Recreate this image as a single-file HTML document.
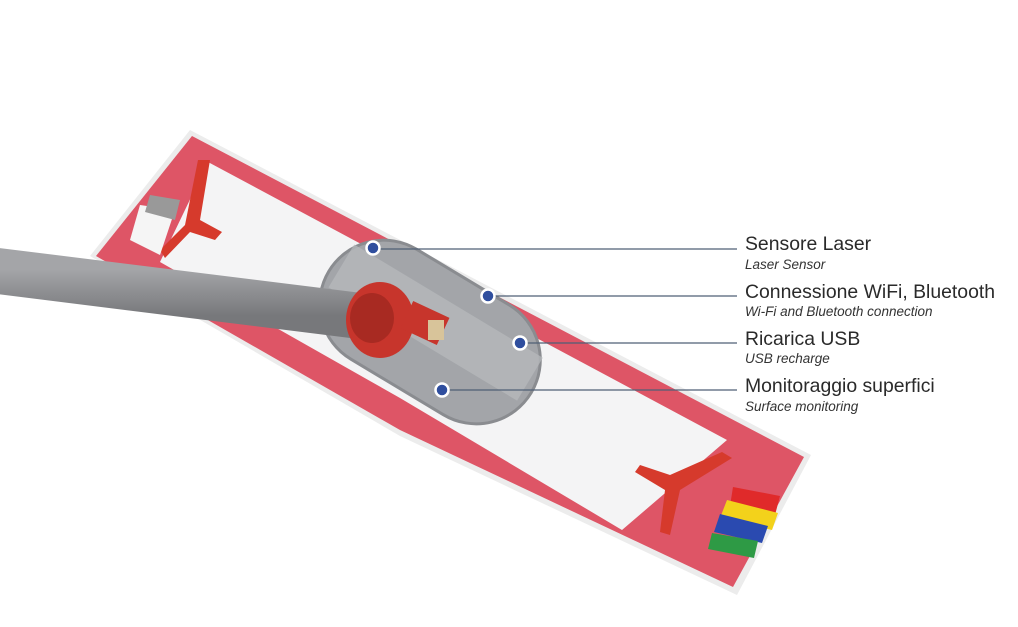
<!DOCTYPE html>
<html><head><meta charset="utf-8"><style>
html,body{margin:0;padding:0;background:#fff;width:1018px;height:627px;overflow:hidden;font-family:"Liberation Sans",sans-serif}
.t{position:absolute;left:745px;color:#2a2a2a;font-size:19.4px;white-space:nowrap}
.s{position:absolute;left:745px;color:#333;font-size:13.5px;font-style:italic;white-space:nowrap}
</style></head><body>
<svg width="1018" height="627" style="position:absolute;left:0;top:0">
<defs>
<linearGradient id="h" x1="0" y1="0" x2="0" y2="1"><stop offset="0" stop-color="#a4a5a8"/><stop offset="0.5" stop-color="#8d8e91"/><stop offset="1" stop-color="#77787b"/></linearGradient>
</defs>
<polygon points="190,130 811,455 737,595 400,436 90,256" fill="#ececec"/>
<polygon points="192,136 804,457 733,587 400,430 96,256" fill="#de5566"/>
<polygon points="208,162 727,440 622,530 400,398 160,262" fill="#f4f4f5"/>
<polygon points="198,160 210,160 200,220 222,232 215,240 190,232 165,258 160,250 185,225" fill="#d63a2c"/>
<polygon points="722,452 732,458 680,490 670,535 660,532 665,490 635,472 640,465 670,475" fill="#d63a2c"/>
<polygon points="140,205 175,210 160,255 130,240" fill="#f5f5f5"/>
<polygon points="150,195 180,200 175,220 145,212" fill="#999"/>
<g transform="translate(430,332) rotate(31)">
<rect x="-118" y="-64" width="236" height="128" rx="64" fill="#a3a5a9" stroke="#8a8c90" stroke-width="3"/>
<rect x="-110" y="-36" width="220" height="50" fill="#b8babd" opacity="0.7"/>
</g>
<line x1="-10" y1="270" x2="360" y2="316" stroke="url(#h)" stroke-width="46" stroke-linecap="round"/>
<ellipse cx="380" cy="320" rx="34" ry="38" fill="#c7352c"/>
<ellipse cx="372" cy="318" rx="22" ry="25" fill="#a82a22"/>
<rect x="405" y="308" width="40" height="30" fill="#c7352c" transform="rotate(25 425 323)"/>
<rect x="428" y="320" width="16" height="20" fill="#d8c49a"/>
<polygon points="733,487 780,496 775,515 730,506" fill="#e02a2a"/>
<polygon points="727,500 778,513 772,530 720,518" fill="#f3d21b"/>
<polygon points="720,514 768,526 762,543 714,532" fill="#2a4ab0"/>
<polygon points="712,533 758,541 754,558 708,549" fill="#2e9a45"/>
<g stroke="#4f5f76" stroke-width="1.2">
<line x1="373" y1="249" x2="737" y2="249"/>
<line x1="488" y1="296" x2="737" y2="296"/>
<line x1="520" y1="343" x2="737" y2="343"/>
<line x1="442" y1="390" x2="737" y2="390"/>
</g>
<g fill="#2f4e9e" stroke="#fff" stroke-width="2.5">
<circle cx="373" cy="248" r="6.5"/>
<circle cx="488" cy="296" r="6.5"/>
<circle cx="520" cy="343" r="6.5"/>
<circle cx="442" cy="390" r="6.5"/>
</g>
</svg>
<div class="t" style="top:233px">Sensore Laser</div>
<div class="s" style="top:257px">Laser Sensor</div>
<div class="t" style="top:281px">Connessione WiFi, Bluetooth</div>
<div class="s" style="top:304px">Wi-Fi and Bluetooth connection</div>
<div class="t" style="top:328px">Ricarica USB</div>
<div class="s" style="top:351px">USB recharge</div>
<div class="t" style="top:375px">Monitoraggio superfici</div>
<div class="s" style="top:399px">Surface monitoring</div>
</body></html>
